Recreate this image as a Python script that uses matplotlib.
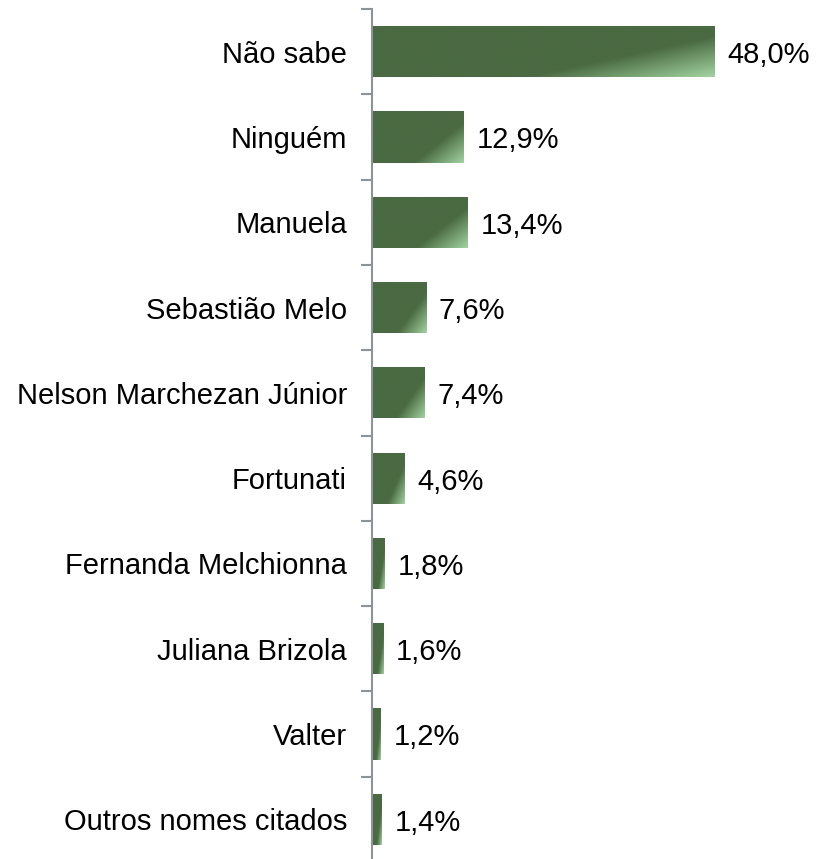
import matplotlib
matplotlib.use("Agg")
import matplotlib.pyplot as plt
import numpy as np
from matplotlib.colors import LinearSegmentedColormap

plt.rcParams['font.family'] = ['Liberation Sans', 'DejaVu Sans']

names = ["Não sabe", "Ninguém", "Manuela", "Sebastião Melo",
         "Nelson Marchezan Júnior", "Fortunati", "Fernanda Melchionna",
         "Juliana Brizola", "Valter", "Outros nomes citados"]
values = [48.0, 12.9, 13.4, 7.6, 7.4, 4.6, 1.8, 1.6, 1.2, 1.4]

dark = "#4a6a42"
light = "#a2d3a0"
cmap = LinearSegmentedColormap.from_list(
    "grn", [(0.0, dark), (0.68, dark), (1.0, light)])

fig = plt.figure(figsize=(8.16, 8.59), dpi=100)
ax = fig.add_axes([372/816, -3/859, 1 - 372/816, 1 - 9/859 + 3/859])

n = len(names)
ypos = np.arange(n)
h = 0.6
bars = ax.barh(ypos, values, height=h, color=dark, edgecolor="none")

# diagonal gradient toward lower-right corner of each bar
uu, vv = np.meshgrid(np.linspace(0, 1, 200), np.linspace(0, 1, 60))
tt = (0.8 * uu + 0.55 * vv) / 1.35
for b, v, y in zip(bars, values, ypos):
    im = ax.imshow(tt, cmap=cmap, vmin=0, vmax=1, aspect="auto",
                   extent=[0, v, y + h/2, y - h/2], interpolation="bilinear",
                   zorder=2)
    im.set_clip_path(b)
    ax.text(v + 1.8, y + 0.04, ("%.1f%%" % v).replace(".", ","), va="center",
            ha="left", fontsize=21)

ax.set_xlim(0, 62.3)
ax.set_ylim(n - 0.5, -0.5)
ax.set_yticks(ypos)
ax.set_yticklabels(names, fontsize=21)
ax.set_yticks(np.arange(n + 1) - 0.5, minor=True)
ax.tick_params(axis="y", which="major", length=0, pad=18)
ax.tick_params(axis="y", which="minor", length=8, width=1.5, color="#8c9399",
               direction="out")
ax.set_xticks([])
for s in ["top", "right", "bottom"]:
    ax.spines[s].set_visible(False)
ax.spines["left"].set_color("#8c9399")
ax.spines["left"].set_linewidth(1.5)
ax.patch.set_alpha(0)

fig.savefig("out.png", dpi=100)
